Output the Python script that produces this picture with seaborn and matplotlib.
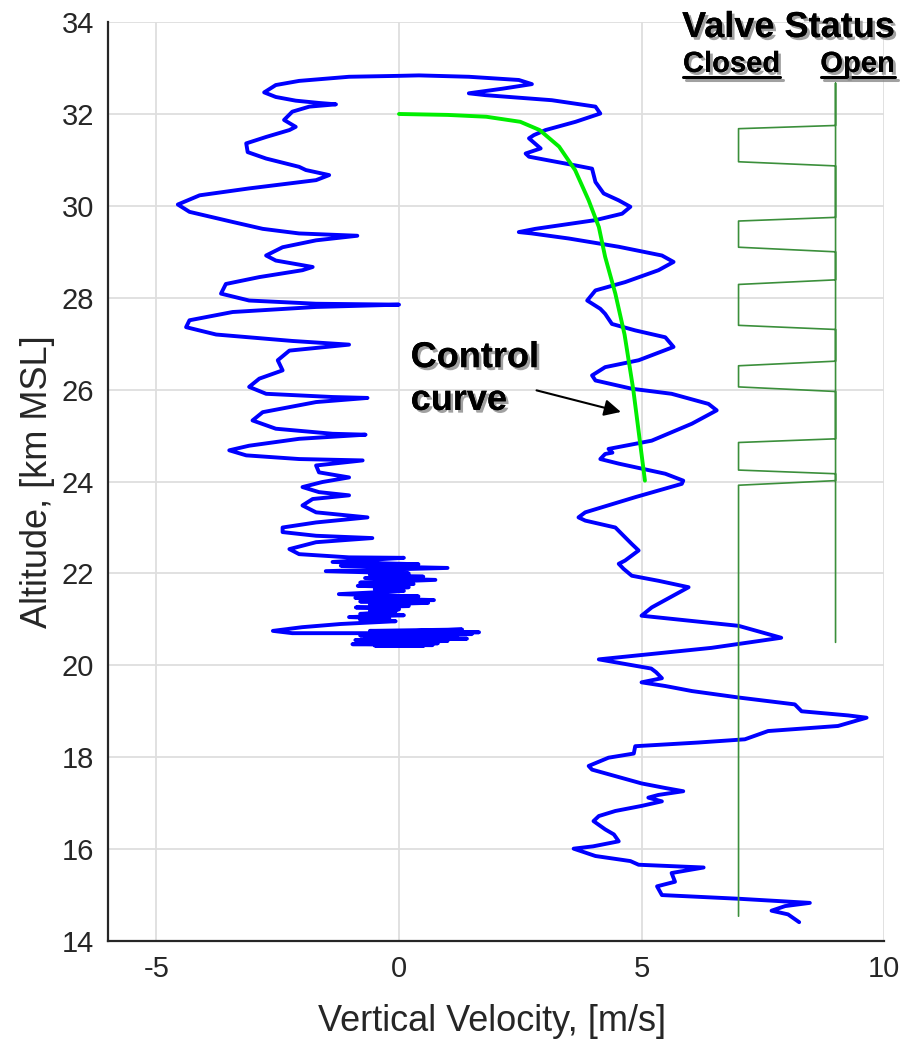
import pandas as pd
import seaborn as sns
import matplotlib.pyplot as plt
import matplotlib.patheffects as pe
from matplotlib.lines import Line2D

# flight trace, (vertical velocity [m/s], altitude [km MSL]) in flight order
ascent = [(8.25, 14.41), (8.02, 14.58), (7.68, 14.66), (7.96, 14.76), (8.47, 14.83), (7.0, 14.92),
          (5.42, 15.0), (5.32, 15.19), (5.69, 15.29), (5.62, 15.48), (6.28, 15.6), (4.94, 15.66),
          (4.77, 15.74), (4.05, 15.85), (3.6, 16.01), (4.0, 16.06), (4.53, 16.17), (4.43, 16.32),
          (4.25, 16.43), (4.01, 16.61), (4.12, 16.72), (4.46, 16.83), (5.0, 16.94), (5.42, 17.04),
          (5.14, 17.12), (5.35, 17.18), (5.86, 17.26), (5.49, 17.33), (5.0, 17.43), (3.98, 17.73),
          (3.91, 17.81), (4.32, 17.99), (4.84, 18.08), (4.87, 18.24), (6.17, 18.32), (7.13, 18.39),
          (7.61, 18.57), (9.05, 18.68), (9.64, 18.86), (9.26, 18.91), (8.30, 19.0), (8.16, 19.15),
          (7.0, 19.3), (6.04, 19.44), (5.49, 19.55), (5.0, 19.63), (5.42, 19.72), (5.3, 19.85),
          (5.2, 19.93), (4.12, 20.13), (6.44, 20.38), (7.88, 20.6), (7.0, 20.86), (6.0, 20.97),
          (5.0, 21.08), (5.21, 21.26), (5.97, 21.7), (5.35, 21.84), (4.8, 21.95), (4.63, 22.1),
          (4.53, 22.21), (4.66, 22.28), (4.94, 22.5), (4.8, 22.64), (4.46, 23.0), (3.84, 23.15),
          (3.7, 23.22), (3.84, 23.33), (4.87, 23.66), (5.83, 23.95), (5.86, 24.02), (5.49, 24.17),
          (4.53, 24.39), (4.15, 24.49), (4.25, 24.6), (4.4, 24.63), (4.32, 24.71), (5.21, 24.89),
          (6.04, 25.26), (6.55, 25.55), (6.38, 25.69), (5.62, 25.91), (4.8, 26.02), (4.05, 26.2),
          (3.98, 26.31), (4.25, 26.49), (4.94, 26.64), (5.66, 26.93), (5.49, 27.14), (4.87, 27.29),
          (4.39, 27.43), (4.25, 27.65), (4.15, 27.76), (3.88, 27.94), (4.05, 28.16), (4.66, 28.34),
          (5.35, 28.6), (5.66, 28.78), (5.42, 28.92), (4.53, 29.11), (3.5, 29.29), (2.74, 29.4),
          (2.47, 29.43), (2.81, 29.5), (4.05, 29.69), (4.6, 29.83), (4.77, 29.98), (4.53, 30.12),
          (4.22, 30.27), (4.05, 30.52), (3.98, 30.81), (3.64, 30.88), (2.68, 31.07), (2.61, 31.14),
          (2.92, 31.25), (2.68, 31.47), (2.78, 31.54), (3.02, 31.65), (3.64, 31.83), (4.15, 32.01),
          (4.05, 32.16), (3.15, 32.3), (1.78, 32.41), (1.44, 32.45), (2.13, 32.55), (2.74, 32.65),
          (2.47, 32.74), (1.44, 32.81), (0.41, 32.84)]

descent = [(0.0, 32.83), (-1.03, 32.81), (-2.06, 32.72), (-2.54, 32.63), (-2.78, 32.47), (-2.54, 32.37),
           (-2.13, 32.29), (-1.65, 32.24), (-1.3, 32.21), (-1.85, 32.16), (-2.2, 32.05), (-2.37, 31.87),
           (-2.13, 31.72), (-2.26, 31.65), (-2.74, 31.5), (-3.15, 31.36), (-3.12, 31.17), (-2.74, 31.03),
           (-2.06, 30.85), (-1.92, 30.78), (-1.44, 30.67), (-1.71, 30.56), (-3.09, 30.38), (-4.11, 30.23),
           (-4.56, 30.03), (-4.32, 29.87), (-3.43, 29.65), (-2.81, 29.5), (-2.06, 29.4), (-0.86, 29.35),
           (-1.71, 29.25), (-2.4, 29.1), (-2.74, 28.92), (-2.54, 28.81), (-1.78, 28.67), (-1.99, 28.6),
           (-2.88, 28.45), (-3.57, 28.3), (-3.67, 28.09), (-3.09, 27.94), (-1.71, 27.87), (0.0, 27.85),
           (-1.71, 27.8), (-3.43, 27.69), (-4.32, 27.51), (-4.39, 27.36), (-3.77, 27.2), (-2.2, 27.06),
           (-1.03, 26.98), (-2.26, 26.85), (-2.5, 26.64), (-2.4, 26.42), (-2.88, 26.24), (-3.09, 26.06),
           (-2.74, 25.91), (-1.37, 25.84), (-0.65, 25.82), (-1.71, 25.73), (-2.81, 25.51), (-3.02, 25.33),
           (-2.54, 25.15), (-1.37, 25.04), (-0.69, 25.02), (-2.06, 24.93), (-3.09, 24.78), (-3.5, 24.68),
           (-3.15, 24.57), (-2.06, 24.49), (-0.75, 24.46), (-1.71, 24.35), (-1.65, 24.2), (-1.03, 24.09),
           (-1.58, 23.99), (-1.99, 23.88), (-1.65, 23.77), (-1.03, 23.7), (-1.78, 23.62), (-1.99, 23.48),
           (-1.71, 23.33), (-1.03, 23.26), (-0.65, 23.22), (-1.71, 23.11), (-2.4, 23.0), (-2.4, 22.9),
           (-1.71, 22.82), (-0.55, 22.77), (-1.71, 22.68), (-2.26, 22.53), (-2.06, 22.42), (-1.03, 22.35),
           (0.1, 22.34), (-1.37, 22.25), (0.4, 22.2), (-1.2, 22.17), (1.0, 22.12), (-1.51, 22.05),
           (0.2, 22.0), (-0.6, 21.97), (0.5, 21.93), (-0.7, 21.9), (0.75, 21.86), (-0.8, 21.8),
           (0.3, 21.77), (-0.85, 21.73), (0.2, 21.7), (-0.5, 21.66), (0.1, 21.62), (-1.24, 21.55),
           (0.4, 21.5), (-0.9, 21.47), (0.72, 21.42), (-0.8, 21.39), (0.6, 21.36), (-0.6, 21.32),
           (0.2, 21.29), (-0.89, 21.26), (0.0, 21.22), (-0.6, 21.2), (-0.07, 21.17), (-0.8, 21.12),
           (0.1, 21.09), (-1.03, 21.05), (-0.2, 21.02), (-0.8, 20.99), (-0.07, 20.96), (-1.2, 20.9),
           (-2.0, 20.83), (-2.6, 20.75), (-2.2, 20.7), (-0.5, 20.7), (1.65, 20.72), (-0.6, 20.75),
           (1.3, 20.78), (-0.5, 20.72), (1.5, 20.68), (-0.8, 20.65), (1.2, 20.62), (-0.7, 20.6),
           (1.4, 20.58), (-0.9, 20.55), (1.0, 20.53), (-0.6, 20.5), (0.8, 20.48), (-0.96, 20.46),
           (0.69, 20.44), (-0.5, 20.43), (0.5, 20.42)]

# control curve
ctrl_vel = [0.0, 1.0, 1.8, 2.5, 2.9, 3.3, 3.63, 3.91, 4.12, 4.25, 4.46, 4.65, 4.83, 5.07]
ctrl_alt = [32.0, 31.98, 31.94, 31.83, 31.65, 31.29, 30.78, 30.12, 29.54, 28.89, 28.09, 27.2, 26.0, 24.02]

# valve status trace (7 = closed, 9 = open)
valve_x = [7, 7, 9, 9, 7, 7, 9, 9, 7, 7, 9, 9, 7, 7, 9, 9, 7, 7, 9, 9, 7, 7, 9, 9, 9]
valve_alt = [14.54, 23.92, 24.02, 24.17, 24.25, 24.85, 24.93, 25.96, 26.06, 26.52, 26.62, 27.31,
             27.4, 28.29, 28.39, 29.0, 29.1, 29.67, 29.75, 30.87, 30.96, 31.68, 31.75, 32.67, 20.5]

trace = pd.DataFrame(ascent + descent, columns=['vel', 'alt'])
ctrl = pd.DataFrame({'vel': ctrl_vel, 'alt': ctrl_alt})
valve = pd.DataFrame({'vel': valve_x, 'alt': valve_alt})

sns.set_style('white')
plt.rcParams['font.family'] = ['Liberation Sans', 'DejaVu Sans']
plt.rcParams['axes.unicode_minus'] = False

fig = plt.figure(figsize=(9.23, 10.52), dpi=100)
ax = fig.add_axes([0.117, 0.1055, 0.8408, 0.8735])

sns.lineplot(data=trace, x='vel', y='alt', sort=False, estimator=None,
             color='#0000ff', linewidth=2.8, solid_joinstyle='round', ax=ax)
sns.lineplot(data=valve, x='vel', y='alt', sort=False, estimator=None,
             color='#3b8f3b', linewidth=1.2, ax=ax)
sns.lineplot(data=ctrl, x='vel', y='alt', sort=False, estimator=None,
             color='#00ee00', linewidth=2.8, ax=ax)

ax.set_xlim(-6, 10)
ax.set_ylim(14, 34)
ax.set_xticks([-5, 0, 5, 10])
ax.set_yticks(range(14, 35, 2))
ax.grid(True, color='#dedede', linewidth=1.3)
ax.set_axisbelow(True)
for s in ['top', 'right']:
    ax.spines[s].set_visible(False)
for s in ['left', 'bottom']:
    ax.spines[s].set_color('#262626')
    ax.spines[s].set_linewidth(1.6)
ax.tick_params(direction='in', length=7, width=1.5, color='#262626',
               labelsize=21, labelcolor='#262626', pad=10)

ax.set_xlabel('Vertical Velocity, [m/s]', fontsize=26, color='#262626')
ax.set_ylabel('Altitude, [km MSL]', fontsize=26, color='#262626')
ax.xaxis.set_label_coords(0.495, -0.068)
ax.yaxis.set_label_coords(-0.068, 0.5)

shadow = [pe.withSimplePatchShadow(offset=(2, -2), shadow_rgbFace='#8a8a8a', alpha=0.8), pe.Normal()]
bold = dict(family='Liberation Sans', fontweight='bold', color='black', path_effects=shadow)

ax.text(0.24, 26.49, 'Control', fontsize=26, ha='left', va='baseline', **bold)
ax.text(0.24, 25.56, 'curve', fontsize=26, ha='left', va='baseline', **bold)
ax.annotate('', xy=(4.63, 25.5), xytext=(2.78, 26.0),
            arrowprops=dict(arrowstyle='-|>', color='black', lw=1.5, mutation_scale=25))

fig.text(0.8543, 0.9648, 'Valve Status', fontsize=26, ha='center', va='baseline', **bold)
fig.text(0.7925, 0.9316, 'Closed', fontsize=21, ha='center', va='baseline', **bold)
fig.text(0.929, 0.9316, 'Open', fontsize=21, ha='center', va='baseline', **bold)
line_shadow = [pe.SimpleLineShadow(offset=(2, -2), shadow_color='#8a8a8a', alpha=0.8), pe.Normal()]
for x0, x1 in [(0.740, 0.845), (0.8895, 0.9695)]:
    fig.add_artist(Line2D([x0, x1], [0.9268, 0.9268], color='black', lw=2.2,
                          path_effects=line_shadow))

fig.savefig('out.png', dpi=100)
